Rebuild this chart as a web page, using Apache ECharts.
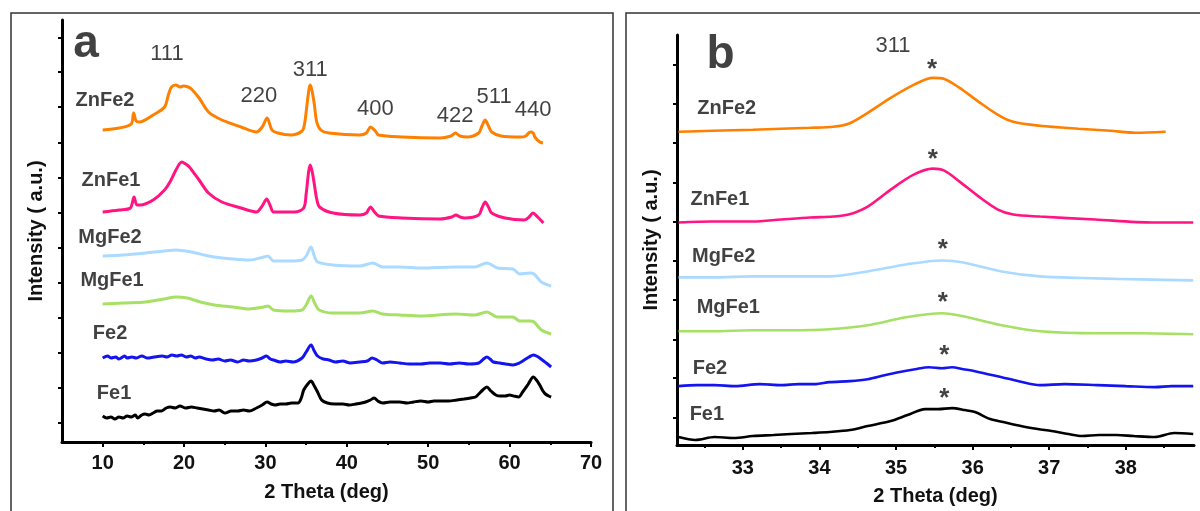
<!DOCTYPE html>
<html><head><meta charset="utf-8">
<script src="https://cdn.jsdelivr.net/npm/echarts@6/dist/echarts.min.js"></script>
<style>html,body{margin:0;padding:0;background:#fff;}#c{width:1200px;height:511px;}</style>
</head><body><div id="c"></div>
<script>
// ---------- data ----------
const seriesNames = ['ZnFe2', 'ZnFe1', 'MgFe2', 'MgFe1', 'Fe2', 'Fe1'];
const colors = ['#FF8000', '#FF1482', '#AADAFF', '#A6E064', '#1414F0', '#000000'];

// Panel a: [2theta (deg), intensity (a.u., offset)]
const aZnFe2 = [[10,312],[12,314],[13.5,318],[13.8,329],[14.1,321],[14.5,320],[16.2,327],[17.6,335],[18.1,348],[18.45,355],[19.0,357],[19.5,355],[19.95,356],[20.5,355],[20.9,353],[21.85,344],[23.0,330],[24.65,322],[27.0,315],[28.9,310],[29.6,315],[30.2,324],[30.8,312],[31.5,309],[33.1,307],[34.5,311],[34.8,318],[35.1,337],[35.35,353],[35.5,357],[35.7,352],[36.0,338],[36.3,320],[36.8,312],[37.8,309],[41.6,307],[42.4,309],[42.9,315],[43.5,311],[43.9,307],[46.75,305],[51.45,304],[52.8,306],[53.35,309],[53.9,306],[54.8,305],[56.2,309],[56.6,316],[57.0,322],[57.4,316],[57.8,310],[58.95,306],[61.3,305],[62.0,306],[62.5,310],[62.9,309],[63.1,305],[63.7,300],[64.1,299]];
const aZnFe1 = [[10,230],[12,232],[13.4,234],[13.85,245],[14.2,237],[14.6,237],[16.2,242],[17.6,252],[18.4,262],[19.0,272],[19.7,280],[20.2,278],[20.65,275],[21.3,268],[21.85,262],[23.0,249],[24.65,240],[27.0,234],[28.9,230],[29.6,236],[30.15,243],[30.6,236],[31.0,230],[33.6,230],[34.7,234],[35.0,248],[35.3,270],[35.5,277],[35.75,270],[36.0,258],[36.3,243],[36.65,235],[38.3,229],[41.6,227],[42.4,229],[42.9,235],[43.4,230],[43.9,226],[46.75,224],[51.45,223],[52.9,225],[53.4,227],[53.9,225],[54.5,224],[56.2,227],[56.6,234],[57.0,240],[57.4,235],[57.8,229],[59.45,224],[61.8,222],[62.4,225],[62.85,229],[63.45,225],[64.15,219]];
const aMgFe2 = [[10,186],[12.5,187],[15.25,189],[17.5,191],[19,192],[20.9,190],[22.5,187],[23.7,185],[26,183],[28.0,182],[29.8,185],[30.3,186],[31.0,181],[33,181],[34.5,182],[35.0,186],[35.6,195],[36.0,186],[36.4,180],[38.3,177],[41.6,176],[43.2,179],[44.4,175],[46.5,175],[49.1,174],[53.35,175],[55.7,175],[57.2,179],[58.5,174],[60.4,173],[61.25,168],[62.5,169],[63.0,168],[63.9,160],[65.1,156]];
const aMgFe1 = [[10,138],[12.5,139],[15.25,140],[17.5,143],[19,145],[20.4,144],[22,140],[23.7,137],[26,135],[28,133],[29.8,135],[30.3,136],[31,132],[33,131],[34.5,132],[35.0,137],[35.6,146],[36.1,138],[36.6,132],[38.3,129],[41.6,129],[43.2,131],[44.4,128],[46.5,127],[49.1,126],[53.35,128],[55.7,127],[57.2,130],[58.5,125],[60.4,125],[61.25,121],[62.5,121],[63,120],[63.9,112],[65.1,108]];
const aFe2 = [[10,84],[10.6,86],[11,84],[11.6,85],[12,83],[12.7,86],[13,84],[13.6,85],[14.1,84],[14.8,86],[15.5,84],[16.3,85],[17.3,86],[17.9,85],[18.5,87],[19.1,86],[19.65,87],[20.3,85],[20.8,86],[21.4,84],[21.85,85],[22.7,83],[23.5,82],[24.2,83],[25,81],[25.7,82],[26.6,80],[27.3,82],[28,81],[28.9,82],[29.6,84],[30.1,86],[30.6,83],[31.0,82],[31.8,80],[32.5,81],[33.4,80],[34.5,84],[35.0,90],[35.6,97],[36.0,91],[36.4,86],[37.1,83],[37.8,82],[38.6,80],[39.5,81],[40.4,79],[41.6,80],[42.5,81],[43.1,84],[43.7,82],[44.4,79],[45.3,80],[46.5,79],[47.7,78],[49.1,78],[50.2,79],[51.5,79],[52.6,78],[53.8,79],[55,78],[56.2,79],[56.8,83],[57.2,85],[57.6,83],[58.0,80],[58.8,79],[59.5,78],[60.4,77],[61.2,79],[61.8,82],[62.4,85],[62.9,87],[63.3,86],[63.7,84],[64.5,79],[65.1,75]];
const aFe1 = [[10,26],[10.5,24],[11,25],[11.5,23],[12,25],[12.5,24],[13,26],[13.5,25],[14,27],[14.3,24],[14.8,27],[15.2,28],[15.7,27],[16.2,29],[16.7,31],[17.2,31],[17.8,34],[18.3,35],[18.9,34],[19.5,36],[20.2,34],[20.9,35],[21.6,34],[22.3,33],[23,32],[23.7,31],[24.3,32],[25,29],[25.8,31],[26.6,31],[27.3,32],[28,31],[28.9,34],[29.6,37],[30.2,40],[30.7,38],[31.2,37],[31.8,38],[32.5,38],[33.2,39],[34.0,39],[34.4,44],[34.7,52],[35.2,58],[35.6,61],[36.0,56],[36.4,50],[36.9,42],[37.6,39],[38.5,38],[39.5,38],[40.3,37],[41.1,38],[41.8,39],[42.3,40],[42.9,42],[43.35,44],[43.8,41],[44.4,39],[45.3,40],[46.5,40],[47.4,39],[48.2,40],[49.1,41],[50,40],[50.7,41],[51.45,41],[52.5,41],[53.5,42],[54.4,43],[55.2,44],[55.8,45],[56.2,48],[56.7,52],[57.2,55],[57.7,51],[58.3,47],[58.9,46],[59.45,46],[60.0,47],[60.5,46],[61.1,45],[61.6,50],[62.3,58],[62.9,65],[63.3,62],[63.7,57],[64.1,51],[64.4,48],[64.8,46],[65.1,45]];

// Panel b: [2theta (deg), intensity (a.u., offset)]
const bZnFe2 = [[32.16,314],[32.6,315],[33.13,316],[33.5,317],[33.88,318],[34.18,319],[34.38,322],[34.63,333],[34.93,348],[35.23,361],[35.48,368],[35.63,367],[35.83,358],[36.08,344],[36.33,331],[36.53,324],[36.88,320],[37.38,317],[37.8,315],[38.13,313],[38.52,314]];
const bZnFe1 = [[32.16,223],[32.6,224],[33.13,224],[33.5,226],[33.88,228],[34.18,229],[34.38,231],[34.63,239],[34.93,256],[35.23,271],[35.48,277],[35.63,275],[35.83,264],[36.08,249],[36.33,236],[36.53,231],[36.88,229],[37.6,226],[38.35,223],[38.88,223]];
const bMgFe2 = [[32.16,168],[32.6,168],[33.13,169],[33.6,169],[34.13,169],[34.63,174],[35.13,181],[35.6,185],[35.88,183],[36.38,174],[36.88,169],[37.63,167],[38.2,166],[38.88,165]];
const bMgFe1 = [[32.16,114],[32.6,114],[33.13,115],[33.6,115],[34.13,116],[34.63,120],[35.13,128],[35.6,132],[35.88,129],[36.38,120],[36.88,114],[37.63,112],[38.2,112],[38.88,111]];
const bFe2 = [[32.16,59],[32.4,60],[32.63,60],[32.9,59],[33.22,61],[33.5,60],[33.73,61],[33.95,61],[34.13,63],[34.4,64],[34.63,66],[34.85,70],[35.03,73],[35.25,76],[35.43,78],[35.6,77],[35.73,78],[35.88,76],[36.03,74],[36.2,71],[36.38,68],[36.6,64],[36.88,60],[37.2,61],[37.63,60],[38.0,59],[38.38,58],[38.6,59],[38.88,59]];
const bFe1 = [[32.16,8],[32.38,5],[32.63,8],[32.88,7],[33.13,9],[33.4,10],[33.63,11],[33.9,12],[34.13,13],[34.4,15],[34.63,19],[34.93,24],[35.15,30],[35.38,36],[35.55,36],[35.73,37],[35.9,35],[36.03,33],[36.23,26],[36.4,23],[36.63,19],[36.85,16],[37.03,14],[37.25,11],[37.43,9],[37.65,10],[37.88,10],[38.1,9],[38.38,8],[38.63,12],[38.88,11]];

const dataA = [aZnFe2, aZnFe1, aMgFe2, aMgFe1, aFe2, aFe1];
const dataB = [bZnFe2, bZnFe1, bMgFe2, bMgFe1, bFe2, bFe1];

// axes
const xTicksA = [10, 20, 30, 40, 50, 60, 70];
const xMinorA = [15, 25, 35, 45, 55, 65];
const xTicksB = [33, 34, 35, 36, 37, 38];
const xMinorB = [32.5, 33.5, 34.5, 35.5, 36.5, 37.5, 38.5];
const yTicksA = [19, 54, 89, 124, 159, 194, 229, 264, 299, 335, 370, 404];
const yTicksB = [27, 67, 106, 146, 185, 224, 263, 303, 342, 381];

// annotations (data coordinates)
const peakLabels = ['111', '220', '311', '400', '422', '511', '440'];
const peakPosA = [[17.9,388],[29.2,346],[35.5,372],[43.5,333],[53.3,326],[58.1,345],[62.9,332]];
const namePosA = [[10.28,342],[11.02,262],[10.9,205],[11.15,162],[10.9,109],[11.4,49]];
const namePosB = [[32.79,337],[32.70,246],[32.75,189],[32.81,138],[32.57,77],[32.53,31]];
const starPosB = [[35.47,381],[35.48,291],[35.61,201],[35.61,148],[35.63,94],[35.63,51]];
const peakLabelB = '311';
const peakPosB = [34.96,400];
const panelLetters = ['a', 'b'];
const panelPos = [[7.95,398],[32.71,391]];

// ---------- chart ----------
const FONT = '"Liberation Sans", Arial, sans-serif';
const chart = echarts.init(document.getElementById('c'), null, {renderer: 'canvas'});

function mainX(grid, min, max, ticks, title, margin, gap) {
  return {
    type: 'value', gridIndex: grid, min: min, max: max, position: 'bottom',
    axisLine: {show: true, onZero: false, lineStyle: {color: '#000', width: 3}},
    axisTick: {show: true, length: 5, customValues: ticks, lineStyle: {color: '#000', width: 2}},
    axisLabel: {show: true, customValues: ticks, margin: margin, color: '#111',
      fontSize: 20, fontWeight: 'bold', fontFamily: FONT},
    splitLine: {show: false},
    name: title, nameLocation: 'middle', nameGap: gap,
    nameTextStyle: {color: '#111', fontSize: 20, fontWeight: 'bold', fontFamily: FONT}
  };
}
function minorX(grid, min, max, ticks) {
  return {
    type: 'value', gridIndex: grid, min: min, max: max, position: 'bottom',
    axisLine: {show: false, onZero: false},
    axisTick: {show: true, length: 3, customValues: ticks, lineStyle: {color: '#000', width: 2}},
    axisLabel: {show: false}, splitLine: {show: false}
  };
}
function mainY(grid, max, ticks, gap) {
  return {
    type: 'value', gridIndex: grid, min: 0, max: max,
    axisLine: {show: true, onZero: false, lineStyle: {color: '#000', width: 3}},
    axisTick: {show: true, length: 4, customValues: ticks, lineStyle: {color: '#000', width: 2}},
    axisLabel: {show: false}, splitLine: {show: false},
    name: 'Intensity ( a.u.)', nameLocation: 'middle', nameGap: gap, nameRotate: 90,
    nameTextStyle: {color: '#111', fontSize: 20, fontWeight: 'bold', fontFamily: FONT}
  };
}

const series = [];
seriesNames.forEach((n, i) => {
  series.push({name: n, type: 'line', xAxisIndex: 0, yAxisIndex: 0, data: dataA[i],
    showSymbol: false, smooth: 0.3, lineStyle: {color: colors[i], width: 3}, z: 3});
  series.push({name: n + ' b', type: 'line', xAxisIndex: 2, yAxisIndex: 1, data: dataB[i],
    showSymbol: false, smooth: 0.3, lineStyle: {color: colors[i], width: 2.6}, z: 3});
});

function textSeries(xi, yi, items, style) {
  return {
    type: 'scatter', xAxisIndex: xi, yAxisIndex: yi, symbolSize: 0, silent: true, z: 10,
    data: items.map(it => ({value: it[1], name: it[0]})),
    label: Object.assign({show: true, position: 'inside', formatter: p => p.name,
      color: '#111', fontFamily: FONT, align: 'center', verticalAlign: 'middle'}, style)
  };
}
series.push(textSeries(0, 0, seriesNames.map((n, i) => [n, namePosA[i]]), {fontSize: 20, fontWeight: 'bold'}));
series.push(textSeries(0, 0, peakLabels.map((n, i) => [n, peakPosA[i]]), {fontSize: 22, fontWeight: 'normal'}));
series.push(textSeries(0, 0, [[panelLetters[0], panelPos[0]]], {fontSize: 46, fontWeight: 'bold'}));
series.push(textSeries(2, 1, seriesNames.map((n, i) => [n, namePosB[i]]), {fontSize: 20, fontWeight: 'bold'}));
series.push(textSeries(2, 1, starPosB.map(p => ['*', p]), {fontSize: 26, fontWeight: 'bold', offset: [0, 5]}));
series.push(textSeries(2, 1, [[peakLabelB, peakPosB]], {fontSize: 22, fontWeight: 'normal'}));
series.push(textSeries(2, 1, [[panelLetters[1], panelPos[1]]], {fontSize: 46, fontWeight: 'bold'}));

chart.setOption({
  animation: false,
  backgroundColor: '#fff',
  grid: [
    {left: 62, top: 20, width: 529, height: 422, containLabel: false},
    {left: 677, top: 35, width: 517, height: 411, containLabel: false}
  ],
  xAxis: [
    mainX(0, 5, 70, xTicksA, '2 Theta (deg)', 11, 40),
    minorX(0, 5, 70, xMinorA),
    mainX(1, 32.14, 38.89, xTicksB, '2 Theta (deg)', 13, 41),
    minorX(1, 32.14, 38.89, xMinorB)
  ],
  yAxis: [mainY(0, 422, yTicksA, 16), mainY(1, 411, yTicksB, 16)],
  graphic: [
    {type: 'rect', shape: {x: 11, y: 13, width: 602, height: 530}, style: {fill: 'none', stroke: '#333', lineWidth: 1.5}, z: 0, silent: true},
    {type: 'rect', shape: {x: 626, y: 13, width: 600, height: 530}, style: {fill: 'none', stroke: '#333', lineWidth: 1.5}, z: 0, silent: true}
  ],
  series: series
});
</script>
</body></html>
